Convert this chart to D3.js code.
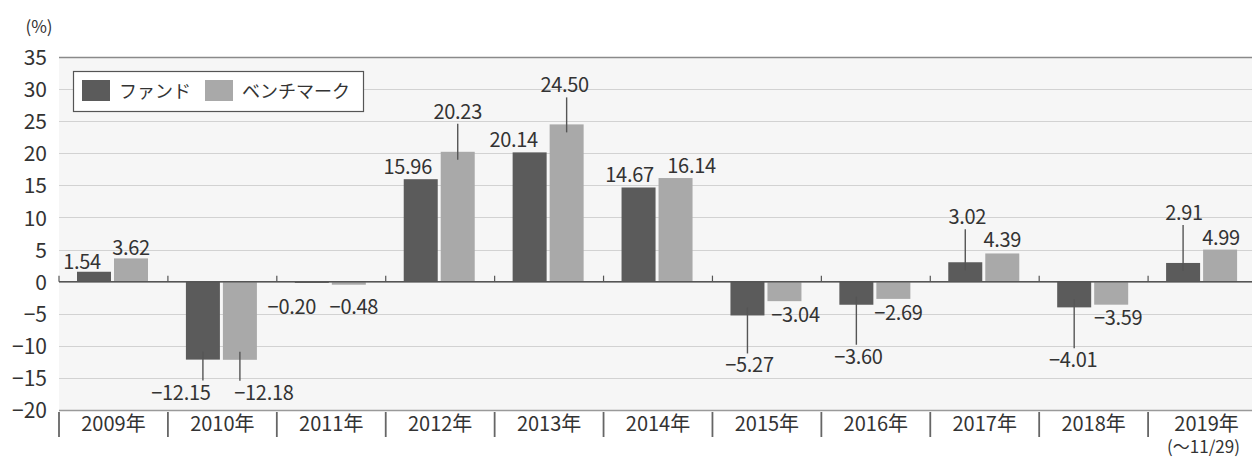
<!DOCTYPE html>
<html><head><meta charset="utf-8">
<script src="https://cdn.jsdelivr.net/npm/d3@7"></script>
<style>
body{margin:0;background:#fff;}
text{font-family:"Noto Sans CJK JP","Noto Sans",sans-serif;fill:#333;}
</style></head>
<body><svg id="c" width="1252" height="458"></svg>
<script>
const years = ["2009年","2010年","2011年","2012年","2013年","2014年","2015年","2016年","2017年","2018年","2019年"];
const seriesNames = ["ファンド","ベンチマーク"];
const fund = [1.54,-12.15,-0.20,15.96,20.14,14.67,-5.27,-3.60,3.02,-4.01,2.91];
const bench = [3.62,-12.18,-0.48,20.23,24.50,16.14,-3.04,-2.69,4.39,-3.59,4.99];
const yTicks = [-20,-15,-10,-5,0,5,10,15,20,25,30,35];
const lastNote = "(〜11/29)";
// label placement (pixels relative to bar end): [dx, dy, leader]
const fundLabelPos = [[-12,-10,0],[-22,33,1],[-20,24,0],[-13,-12,0],[-16,-12,0],[-9,-12,0],[2,50,1],[2,52,1],[2,-45,1],[-1,53,1],[1,-50,1]];
const benchLabelPos = [[0,-10,0],[24,33,1],[5,22,0],[0,-40,1],[-2,-39,1],[16,-12,0],[11,14,0],[5,14,0],[0,-13,0],[7,13,0],[1,-12,0]];

const colors = ["#5b5b5b","#a9a9a9"];
const FF = "'Noto Sans CJK JP','Noto Sans',sans-serif";
const svg = d3.select("#c");
const L = 59, R = 1252, T = 57, B = 410;
const x0 = d3.scaleBand().domain(years).range([L, 1257]).paddingInner(0).paddingOuter(0);
const x1 = d3.scaleBand().domain(seriesNames).range([18, 89]).paddingInner(0.081).paddingOuter(0);
const y = d3.scaleLinear().domain([-20, 35]).range([B, T]);

svg.append("rect").attr("x", L).attr("y", T).attr("width", R - L).attr("height", B - T).attr("fill", "#f6f6f6");

// gridlines
svg.append("g").selectAll("line").data(yTicks).join("line")
  .attr("x1", L).attr("x2", R).attr("y1", d => Math.round(y(d)) + 0.5).attr("y2", d => Math.round(y(d)) + 0.5)
  .attr("stroke", d => d === 35 ? "#8a8a8a" : d === -20 ? "#9a9a9a" : "#d2d2d2")
  .attr("stroke-width", d => (d === 35 || d === -20) ? 1.5 : 1.2);

// y axis labels
const yAxis = d3.axisLeft(y).tickValues(yTicks).tickSize(0).tickPadding(12);
const ga = svg.append("g").attr("transform", `translate(${L},0)`).call(yAxis);
ga.select(".domain").remove();
ga.selectAll("text").style("font-size", "21px").attr("fill", "#444").attr("font-family", FF).attr("dy", "0.36em");

svg.append("text").attr("x", 39).attr("y", 33).attr("text-anchor", "middle").style("font-size", "17px").attr("fill", "#444").text("(%)");

// bars
const data = years.map((yr, i) => ({yr, vals: [fund[i], bench[i]], pos: [fundLabelPos[i], benchLabelPos[i]]}));
const groups = svg.append("g").selectAll("g").data(data).join("g")
  .attr("transform", d => `translate(${x0(d.yr)},0)`);
groups.selectAll("rect").data(d => d.vals.map((v, k) => ({v, k}))).join("rect")
  .attr("x", d => x1(seriesNames[d.k]))
  .attr("width", x1.bandwidth())
  .attr("y", d => y(Math.max(0, d.v)))
  .attr("height", d => Math.max(1, Math.abs(y(d.v) - y(0))))
  .attr("fill", d => colors[d.k]);

// zero line
svg.append("line").attr("x1", L).attr("x2", R).attr("y1", y(0)).attr("y2", y(0)).attr("stroke", "#555").attr("stroke-width", 1.5);

// boundary ticks
const bounds = years.map(yr => x0(yr));
svg.append("g").selectAll("line").data(bounds).join("line")
  .attr("x1", d => d).attr("x2", d => d).attr("y1", y(0) - 6).attr("y2", y(0))
  .attr("stroke", "#555").attr("stroke-width", 1.2);
svg.append("g").selectAll("line").data(bounds).join("line")
  .attr("x1", d => d).attr("x2", d => d).attr("y1", B + 2).attr("y2", B + 27)
  .attr("stroke", "#666").attr("stroke-width", 1.8);

// x labels (last one carries a second line as a tspan)
const xl = svg.append("g").selectAll("text").data(years).join("text")
  .attr("x", d => x0(d) + x0.bandwidth() / 2 + (d === "2019年" ? 4 : 0))
  .attr("y", 431).attr("text-anchor", "middle").style("font-size", "20px").attr("fill", "#444");
xl.append("tspan").text(d => d);
xl.filter(d => d === "2019年").append("tspan")
  .attr("x", x0("2019年") + x0.bandwidth() / 2 + 1).attr("dy", 22)
  .style("font-size", "17px").text(lastNote);

// value labels
const fmt = v => d3.format(".2f")(v).replace("-", "−");
const lab = svg.append("g");
data.forEach(d => {
  d.vals.forEach((v, k) => {
    const cx = x0(d.yr) + x1(seriesNames[k]) + x1.bandwidth() / 2;
    const ey = y(v);
    const [dx, dy, leader] = d.pos[k];
    const ly = ey + dy;
    if (leader) {
      const dir = dy > 0 ? 1 : -1;
      lab.append("line").attr("x1", cx).attr("x2", cx)
        .attr("y1", ey - dir * 8).attr("y2", ly - dir * 12)
        .attr("stroke", "#555").attr("stroke-width", 1.4);
    }
    lab.append("text").attr("x", cx + dx).attr("y", ly + 7).attr("text-anchor", "middle")
      .style("font-size", "20px").style("letter-spacing", "-0.3px").text(fmt(v));
  });
});

// legend
const lg = svg.append("g");
lg.append("rect").attr("x", 73.5).attr("y", 71.5).attr("width", 290).attr("height", 40).attr("fill", "#fff").attr("stroke", "#555").attr("stroke-width", 1.2);
const lx = [82, 205];
seriesNames.forEach((s, k) => {
  lg.append("rect").attr("x", lx[k]).attr("y", 80).attr("width", 28).attr("height", 21).attr("fill", colors[k]);
  lg.append("text").attr("x", lx[k] + 37).attr("y", 98).style("font-size", "18px").attr("fill", "#444").text(s);
});
</script></body></html>
